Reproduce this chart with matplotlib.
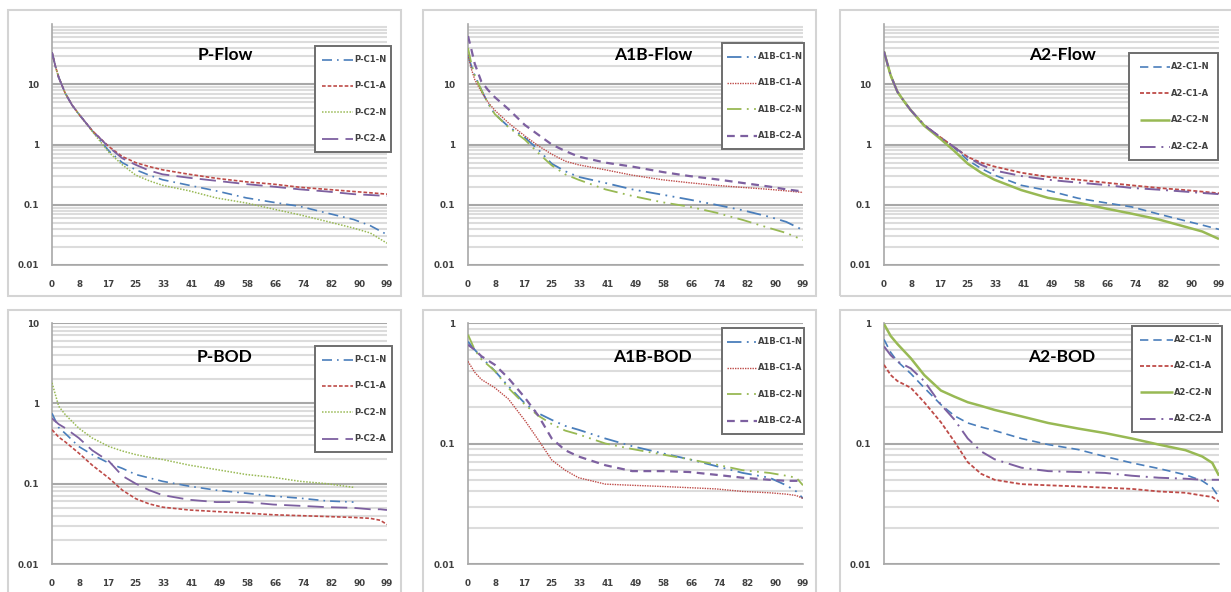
import numpy as np
import matplotlib
matplotlib.use("Agg")
import matplotlib.pyplot as plt
from matplotlib.ticker import LogLocator, FixedLocator, NullFormatter
from matplotlib.patches import Rectangle
from matplotlib.lines import Line2D

# ---------------- data ----------------
x_labels = ["0", "8", "17", "25", "33", "41", "49", "58", "66", "74", "82", "90", "99"]

x_flow = [0, 1, 2, 4, 6, 8, 12, 17, 21, 25, 29, 33, 41, 49, 58, 66, 74, 82, 90, 95, 100]
x_bod = [0, 2, 4, 8, 12, 17, 21, 25, 29, 33, 41, 49, 58, 66, 74, 82, 90, 95, 98, 100]

nan = np.nan

# P-Flow
p_flow_c1n = [34, 20, 13, 7, 4.5, 3.2, 1.7, 0.78, 0.5, 0.38, 0.31, 0.26, 0.21, 0.17, 0.13, 0.11, 0.094, 0.073, 0.057, 0.045, 0.032]
p_flow_c1a = [34, 20, 13, 7, 4.5, 3.2, 1.7, 0.92, 0.63, 0.5, 0.43, 0.38, 0.32, 0.275, 0.24, 0.22, 0.195, 0.18, 0.166, 0.158, 0.15]
p_flow_c2n = [34, 20, 13, 7, 4.5, 3.2, 1.65, 0.74, 0.46, 0.31, 0.25, 0.21, 0.17, 0.13, 0.107, 0.085, 0.068, 0.053, 0.041, 0.034, 0.023]
p_flow_c2a = [34, 20, 13, 7, 4.5, 3.2, 1.7, 0.9, 0.59, 0.46, 0.37, 0.32, 0.28, 0.25, 0.22, 0.2, 0.18, 0.166, 0.15, 0.145, 0.14]

# A1B-Flow
a1b_flow_c1n = [31, 20, 14, 8, 4.8, 3.2, 2.0, 1.3, 0.82, 0.48, 0.36, 0.29, 0.23, 0.18, 0.147, 0.122, 0.1, 0.081, 0.063, 0.052, 0.038]
a1b_flow_c1a = [31, 18, 12, 7.5, 5, 3.7, 2.3, 1.38, 0.95, 0.69, 0.53, 0.46, 0.38, 0.31, 0.26, 0.232, 0.21, 0.194, 0.18, 0.17, 0.16]
a1b_flow_c2n = [40, 22, 14, 8, 4.8, 3.2, 1.95, 1.2, 0.72, 0.45, 0.32, 0.26, 0.18, 0.14, 0.11, 0.093, 0.074, 0.056, 0.041, 0.034, 0.026]
a1b_flow_c2a = [63, 38, 22, 11, 8, 6.1, 3.9, 2.1, 1.45, 1.0, 0.78, 0.63, 0.5, 0.43, 0.35, 0.3, 0.265, 0.23, 0.2, 0.18, 0.166]

# A2-Flow
a2_flow_c1n = [35, 22, 14, 7.5, 5.2, 3.7, 2.1, 1.3, 0.88, 0.55, 0.4, 0.31, 0.21, 0.172, 0.128, 0.108, 0.092, 0.07, 0.054, 0.046, 0.039]
a2_flow_c1a = [35, 22, 14, 7.5, 5.2, 3.7, 2.1, 1.3, 0.9, 0.62, 0.5, 0.43, 0.34, 0.29, 0.26, 0.233, 0.21, 0.19, 0.175, 0.165, 0.155]
a2_flow_c2n = [35, 22, 14, 7.5, 5.2, 3.7, 2.05, 1.22, 0.78, 0.48, 0.34, 0.26, 0.175, 0.13, 0.108, 0.087, 0.071, 0.057, 0.043, 0.036, 0.027]
a2_flow_c2a = [35, 22, 14, 7.5, 5.2, 3.7, 2.1, 1.3, 0.9, 0.62, 0.46, 0.37, 0.3, 0.26, 0.233, 0.213, 0.19, 0.178, 0.165, 0.157, 0.15]

# P-BOD
p_bod_c1n = [0.75, 0.5, 0.42, 0.29, 0.23, 0.18, 0.155, 0.13, 0.118, 0.107, 0.093, 0.083, 0.076, 0.07, 0.066, 0.061, 0.059, nan, nan, nan]
p_bod_c1a = [0.47, 0.38, 0.33, 0.24, 0.17, 0.117, 0.083, 0.065, 0.056, 0.051, 0.047, 0.045, 0.043, 0.041, 0.04, 0.039, 0.038, 0.037, 0.035, 0.031]
p_bod_c2n = [1.8, 0.92, 0.72, 0.49, 0.37, 0.29, 0.255, 0.23, 0.213, 0.2, 0.17, 0.15, 0.13, 0.12, 0.107, 0.1, 0.09, nan, nan, nan]
p_bod_c2a = [0.65, 0.55, 0.49, 0.37, 0.26, 0.19, 0.125, 0.1, 0.083, 0.072, 0.063, 0.059, 0.059, 0.055, 0.053, 0.051, 0.05, 0.048, 0.048, 0.047]

# A1B-BOD
a1b_bod_c1n = [0.7, 0.6, 0.52, 0.4, 0.3, 0.215, 0.178, 0.157, 0.14, 0.13, 0.11, 0.095, 0.083, 0.074, 0.065, 0.057, 0.052, 0.045, 0.04, 0.035]
a1b_bod_c1a = [0.48, 0.39, 0.34, 0.29, 0.235, 0.155, 0.107, 0.073, 0.06, 0.052, 0.046, 0.045, 0.044, 0.043, 0.042, 0.04, 0.039, 0.038, 0.037, 0.035]
a1b_bod_c2n = [0.8, 0.6, 0.5, 0.4, 0.29, 0.21, 0.17, 0.145, 0.128, 0.119, 0.1, 0.09, 0.081, 0.074, 0.067, 0.06, 0.057, 0.054, 0.052, 0.045]
a1b_bod_c2a = [0.66, 0.6, 0.53, 0.45, 0.35, 0.24, 0.17, 0.11, 0.088, 0.078, 0.066, 0.059, 0.059, 0.058, 0.055, 0.052, 0.05, 0.049, 0.049, 0.049]

# A2-BOD
a2_bod_c1n = [0.73, 0.57, 0.48, 0.38, 0.29, 0.21, 0.17, 0.148, 0.137, 0.128, 0.11, 0.098, 0.089, 0.078, 0.069, 0.062, 0.055, 0.049, 0.043, 0.036]
a2_bod_c1a = [0.45, 0.37, 0.33, 0.29, 0.22, 0.15, 0.104, 0.07, 0.056, 0.05, 0.046, 0.045, 0.044, 0.043, 0.042, 0.04, 0.039, 0.037, 0.036, 0.033]
a2_bod_c2n = [0.98, 0.78, 0.67, 0.51, 0.37, 0.275, 0.245, 0.22, 0.205, 0.19, 0.168, 0.148, 0.133, 0.122, 0.11, 0.098, 0.088, 0.078, 0.069, 0.054]
a2_bod_c2a = [0.64, 0.54, 0.48, 0.42, 0.33, 0.21, 0.158, 0.11, 0.086, 0.074, 0.063, 0.059, 0.058, 0.057, 0.054, 0.052, 0.051, 0.05, 0.05, 0.05]

# ---------------- styles ----------------
BLUE = "#4A7EBB"
RED = "#BE4B48"
GREEN = "#98B954"
PURPLE = "#7D60A0"

style_p = [
    dict(color=BLUE, ls=(0, (6, 3, 1, 3)), lw=1.2),
    dict(color=RED, ls=(0, (2.2, 1.2)), lw=1.2),
    dict(color=GREEN, ls=(0, (1, 1)), lw=1.1),
    dict(color=PURPLE, ls=(0, (9, 4)), lw=1.3),
]
style_a1b = [
    dict(color=BLUE, ls=(0, (8, 3, 1, 3, 1, 3)), lw=1.3),
    dict(color=RED, ls=(0, (1, 0.8)), lw=1.0),
    dict(color=GREEN, ls=(0, (8, 3, 1, 3, 1, 3)), lw=1.3),
    dict(color=PURPLE, ls=(0, (3.5, 2.5)), lw=1.6),
]
style_a2 = [
    dict(color=BLUE, ls=(0, (5, 3)), lw=1.2),
    dict(color=RED, ls=(0, (2.2, 1.2)), lw=1.3),
    dict(color=GREEN, ls="-", lw=1.8),
    dict(color=PURPLE, ls=(0, (8, 3, 1, 3)), lw=1.4),
]

W, H = 1231, 592
fig = plt.figure(figsize=(W / 100, H / 100), dpi=100)
fig.patch.set_facecolor("white")

def fx(px):
    return px / W

def fy(py):
    return 1 - py / H

# legend: box (x0, y0, x1, y1), handle start x, handle length (pixels)
panels = [
    ("P-Flow", x_flow, [p_flow_c1n, p_flow_c1a, p_flow_c2n, p_flow_c2a],
     ["P-C1-N", "P-C1-A", "P-C2-N", "P-C2-A"], style_p, (0.01, 100),
     (8, 10, 401, 296), (52, 24, 387, 265), (315, 46, 391, 152, 322, 31), (225, 55), True),
    ("A1B-Flow", x_flow, [a1b_flow_c1n, a1b_flow_c1a, a1b_flow_c2n, a1b_flow_c2a],
     ["A1B-C1-N", "A1B-C1-A", "A1B-C2-N", "A1B-C2-A"], style_a1b, (0.01, 100),
     (423, 10, 816, 296), (468, 24, 803, 265), (722, 43, 804, 149, 727, 30), (653, 55), True),
    ("A2-Flow", x_flow, [a2_flow_c1n, a2_flow_c1a, a2_flow_c2n, a2_flow_c2a],
     ["A2-C1-N", "A2-C1-A", "A2-C2-N", "A2-C2-A"], style_a2, (0.01, 100),
     (840, 10, 1240, 296), (884, 24, 1219, 265), (1129, 53, 1218, 160, 1140, 30), (1063, 55), True),
    ("P-BOD", x_bod, [p_bod_c1n, p_bod_c1a, p_bod_c2n, p_bod_c2a],
     ["P-C1-N", "P-C1-A", "P-C2-N", "P-C2-A"], style_p, (0.01, 10),
     (8, 310, 401, 610), (52, 323, 387, 564), (315, 346, 392, 452, 322, 31), (224, 357), True),
    ("A1B-BOD", x_bod, [a1b_bod_c1n, a1b_bod_c1a, a1b_bod_c2n, a1b_bod_c2a],
     ["A1B-C1-N", "A1B-C1-A", "A1B-C2-N", "A1B-C2-A"], style_a1b, (0.01, 1),
     (423, 310, 816, 610), (468, 323, 803, 564), (722, 328, 804, 434, 727, 30), (652, 357), True),
    ("A2-BOD", x_bod, [a2_bod_c1n, a2_bod_c1a, a2_bod_c2n, a2_bod_c2a],
     ["A2-C1-N", "A2-C1-A", "A2-C2-N", "A2-C2-A"], style_a2, (0.01, 1),
     (840, 310, 1240, 610), (884, 323, 1219, 564), (1132, 326, 1222, 432, 1140, 33), (1062, 357), False),
]

TICK_COLOR = "#404040"

for (title, xs, series, labels, styles, ylim, box, rect, leg, tpos, show_x) in panels:
    bx0, by0, bx1, by1 = box
    fig.patches.append(Rectangle((fx(bx0), fy(by1)), fx(bx1 - bx0), (by1 - by0) / H,
                                 transform=fig.transFigure, facecolor="none",
                                 edgecolor="#D4D4D4", lw=1.5, zorder=-5))
    x0, y0, x1, y1 = rect
    ax = fig.add_axes([fx(x0), fy(y1), fx(x1 - x0), (y1 - y0) / H])
    ax.set_facecolor("white")
    ax.set_yscale("log")
    ax.set_ylim(*ylim)
    ax.set_xlim(0, 100)

    for s, lab, st in zip(series, labels, styles):
        ax.plot(xs, s, label=lab, color=st["color"], linestyle=st["ls"], lw=st["lw"],
                solid_capstyle="butt", dash_capstyle="butt", zorder=3)

    ax.yaxis.set_minor_locator(LogLocator(base=10, subs=range(2, 10), numticks=20))
    ax.yaxis.set_minor_formatter(NullFormatter())
    yt = [t for t in [0.01, 0.1, 1, 10] if ylim[0] <= t <= ylim[1]]
    ax.set_yticks(yt)
    ax.set_yticklabels([f"{t:g}" for t in yt])
    ax.grid(True, which="major", axis="y", color="#A8A8A8", lw=1.5, zorder=1)
    ax.grid(True, which="minor", axis="y", color="#DCDCDC", lw=1.5, zorder=1)
    ax.set_axisbelow(True)

    ax.xaxis.set_major_locator(FixedLocator(np.linspace(0, 100, len(x_labels))))
    if show_x:
        ax.set_xticklabels(x_labels)
    else:
        ax.set_xticklabels([])
    ax.tick_params(axis="both", which="both", length=0, labelsize=6.3,
                   labelcolor=TICK_COLOR)
    ax.tick_params(axis="y", pad=9)
    ax.tick_params(axis="x", pad=11)
    for lbl in ax.get_xticklabels() + ax.get_yticklabels():
        lbl.set_fontweight("bold")

    for side in ["top", "right"]:
        ax.spines[side].set_visible(False)
    for side in ["left", "bottom"]:
        ax.spines[side].set_color("#A8A8A8")
        ax.spines[side].set_linewidth(1.2)

    fig.text(fx(tpos[0]), fy(tpos[1]), title, ha="center", va="center",
             fontsize=12.5, fontweight="bold", family="Lato", color="#000000",
             zorder=10)

    # legend drawn as a framed box with sample lines and labels
    lx0, ly0, lx1, ly1, hx, hl = leg
    fig.add_artist(Rectangle((fx(lx0), fy(ly1)), fx(lx1 - lx0), (ly1 - ly0) / H,
                             transform=fig.transFigure, facecolor="white",
                             edgecolor="#6E6E6E", lw=1.4, zorder=20))
    row_gap = (ly1 - ly0 - 27) / 3.0
    for i, (lab, st) in enumerate(zip(labels, styles)):
        ry = ly0 + 13.5 + i * row_gap
        fig.add_artist(Line2D([fx(hx), fx(hx + hl)], [fy(ry), fy(ry)],
                              transform=fig.transFigure, color=st["color"],
                              linestyle=st["ls"], lw=st["lw"],
                              dash_capstyle="butt", solid_capstyle="butt", zorder=21))
        fig.text(fx(hx + hl + 1), fy(ry), lab, ha="left", va="center",
                 fontsize=6.0, fontweight="bold", color="#404040", zorder=22)

fig.savefig("out.png", dpi=100, facecolor="white")
